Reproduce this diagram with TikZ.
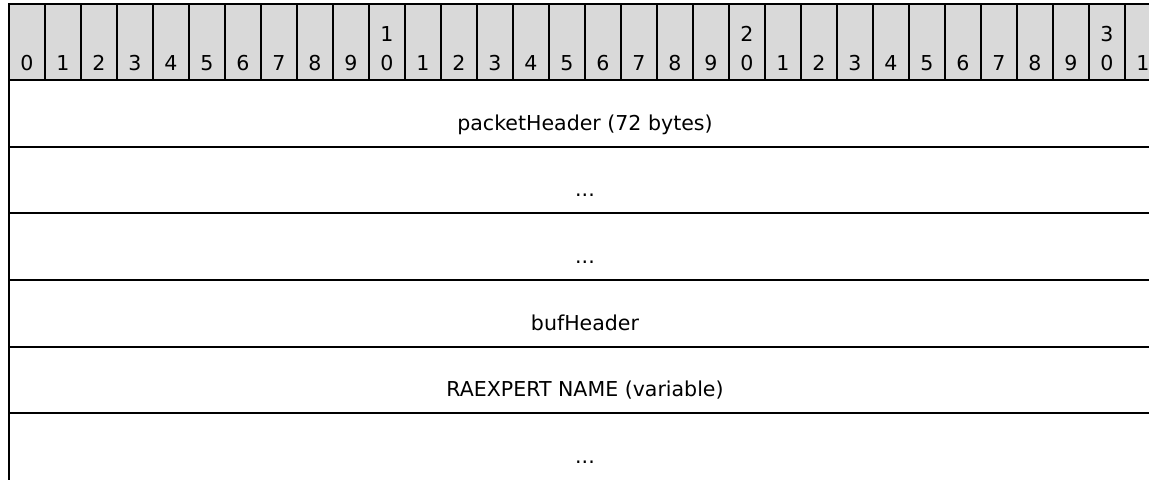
\documentclass[tikz,border=0pt]{standalone}
\usepackage{fontspec}
\setmainfont{DejaVu Sans}
\definecolor{hdrgray}{RGB}{217,217,217}
\begin{document}
\begin{tikzpicture}[x=0.75pt,y=-0.75pt,
  rule/.style={line width=1.5pt,black},
  bitlabel/.style={anchor=base,inner sep=0pt,font=\fontsize{15.4}{21.2}\selectfont},
  fieldlabel/.style={anchor=base,inner sep=0pt,font=\fontsize{15.4}{21.2}\selectfont}]
\useasboundingbox (0,0) rectangle (1149,479);
\clip (0,0) rectangle (1149,479);
% header
\fill[hdrgray] (9,4) rectangle (1161,80);
\foreach \i in {0,...,32}{
  \draw[rule] ({9+36*\i},4) -- ({9+36*\i},80);
}
\foreach \i in {0,...,31}{
  \pgfmathtruncatemacro{\lo}{mod(\i,10)}
  \pgfmathtruncatemacro{\hi}{div(\i,10)}
  \node[bitlabel] (b\i) at ({27+36*\i},70) {\lo};
  \ifnum\i>9 \ifnum\lo=0
    \node[bitlabel] (t\i) at ({27+36*\i},41.7) {\hi};
  \fi\fi
}
\draw[rule] (9,4) -- (1161,4);
% rows
\foreach \y in {80,146.7,213.3,280,346.7,413.3}{
  \draw[rule] (9,\y) -- (1161,\y);
}
\draw[rule] (9,3.25) -- (9,482);
\node[fieldlabel] (f1) at (585,130) {packetHeader (72 bytes)};
\node[fieldlabel] (f2) at (585,196.7) {...};
\node[fieldlabel] (f3) at (585,263.3) {...};
\node[fieldlabel] (f4) at (585,330) {bufHeader};
\node[fieldlabel] (f5) at (585,396.7) {RAEXPERT NAME (variable)};
\node[fieldlabel] (f6) at (585,463.3) {...};
\end{tikzpicture}
\end{document}
